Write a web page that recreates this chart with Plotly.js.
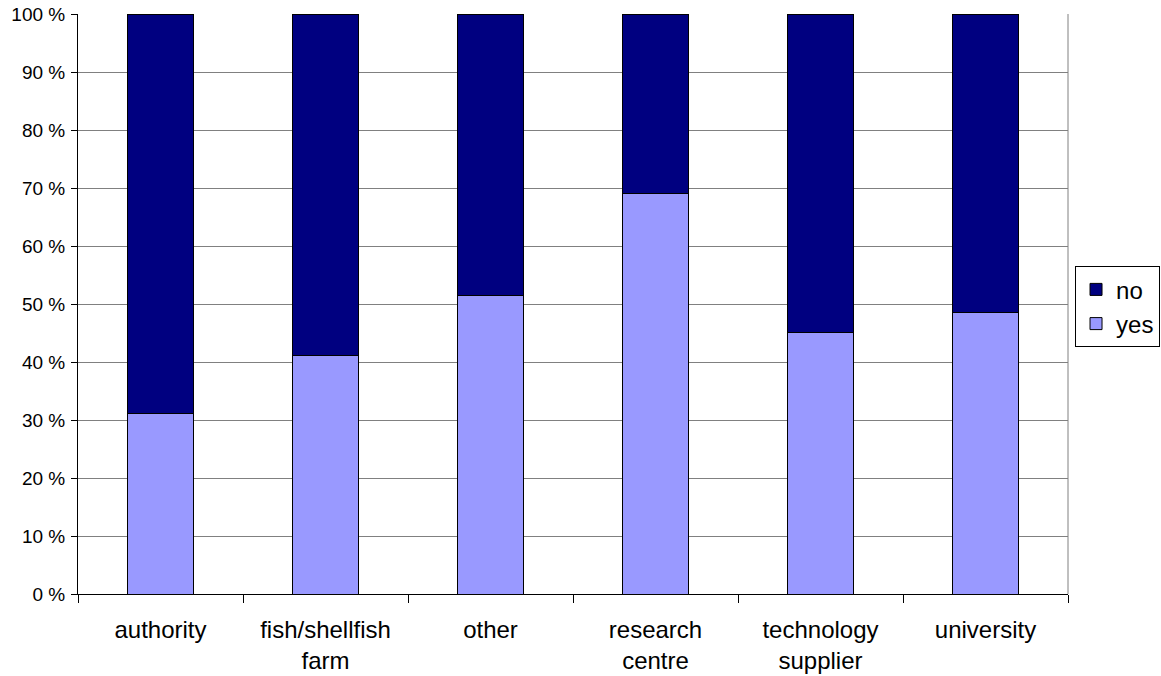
<!DOCTYPE html>
<html>
<head>
<meta charset="utf-8">
<script src="https://cdn.plot.ly/plotly-3.0.1.min.js"></script>
<style>
  html, body { margin: 0; padding: 0; background: #ffffff; }
  #chart { width: 1161px; height: 676px; }
</style>
</head>
<body>
<div id="chart"></div>
<script>
// Share of respondents per organisation type (percent)
const categories = ['authority', 'fish/shellfish<br>farm', 'other', 'research<br>centre', 'technology<br>supplier', 'university'];
const yesShare = [31.1, 41.1, 51.5, 69.0, 45.1, 48.5];
const noShare  = [68.9, 58.9, 48.5, 31.0, 54.9, 51.5];
const yTickVals = [0, 10, 20, 30, 40, 50, 60, 70, 80, 90, 100];
const yTickText = ['0 %', '10 %', '20 %', '30 %', '40 %', '50 %', '60 %', '70 %', '80 %', '90 %', '100 %'];

const FONT = '"Liberation Sans", Arial, sans-serif';

const traces = [
  {
    type: 'bar', name: 'yes', x: categories, y: yesShare,
    marker: { color: '#9999FF', line: { color: '#000000', width: 1 } },
    hoverinfo: 'x+y+name'
  },
  {
    type: 'bar', name: 'no', x: categories, y: noShare,
    marker: { color: '#000080', line: { color: '#000000', width: 1 } },
    hoverinfo: 'x+y+name'
  }
];

const layout = {
  width: 1161, height: 676,
  margin: { l: 78, r: 93, t: 14, b: 82, pad: 0, autoexpand: false },
  paper_bgcolor: '#ffffff', plot_bgcolor: '#ffffff',
  barmode: 'stack',
  bargap: 0.6,
  font: { family: FONT, color: '#000000' },
  xaxis: {
    type: 'category',
    tickson: 'boundaries',
    ticks: 'outside', ticklen: 8, tickwidth: 1, tickcolor: '#000000',
    showline: true, linecolor: '#000000', linewidth: 1,
    showgrid: false, zeroline: false,
    tickfont: { family: FONT, size: 24, color: '#000000' },
    ticklabelstandoff: 14,
    automargin: false
  },
  yaxis: {
    range: [0, 100],
    tickvals: yTickVals, ticktext: yTickText,
    ticks: 'outside', ticklen: 6, tickwidth: 1, tickcolor: '#000000',
    showline: true, linecolor: '#000000', linewidth: 1,
    showgrid: true, gridcolor: '#808080', gridwidth: 1,
    zeroline: false,
    tickfont: { family: FONT, size: 19, color: '#000000' },
    ticklabelstandoff: 2,
    automargin: false
  },
  showlegend: true,
  legend: {
    x: 1.0071, xanchor: 'left',
    y: 0.565, yanchor: 'top',
    traceorder: 'reversed',
    bordercolor: '#000000', borderwidth: 1,
    bgcolor: '#ffffff',
    font: { family: FONT, size: 24, color: '#000000' },
    itemwidth: 30
  },
  shapes: [
    { type: 'line', xref: 'paper', yref: 'paper', x0: 1, x1: 1, y0: 0, y1: 1,
      line: { color: '#808080', width: 1 } }
  ]
};

Plotly.newPlot('chart', traces, layout, { displayModeBar: false, staticPlot: true });
</script>
</body>
</html>
